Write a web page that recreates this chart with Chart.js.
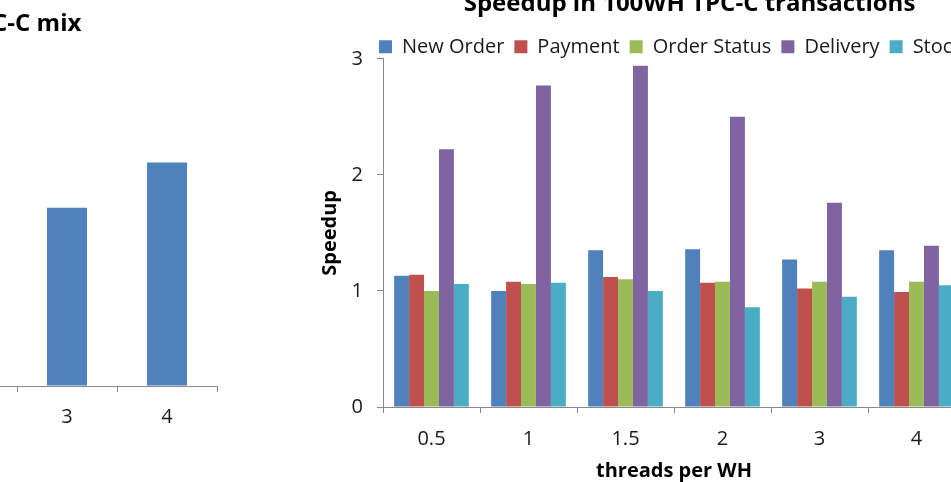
<!DOCTYPE html>
<html lang="en">
<head>
    <meta charset="UTF-8"/>
    <title>Speedup in 100WH TPC-C</title>
    <script src="https://cdn.jsdelivr.net/npm/chart.js"></script>
    <style>
  html, body {
  margin: 0;
  padding: 0;
  width: 951px;
  height: 482px;
  overflow: hidden;
  background: #fff;
}
.box {
  position: absolute;
}
    </style>
</head>
<body>
    <div class="box" style="left:-400px; top:0px;"><canvas id="mixChart" width="640" height="482"></canvas></div>
    <div class="box" style="left:300px; top:-10px;"><canvas id="txChart" width="780" height="498"></canvas></div>
    <script>
        // data
        var threads = ['0.5', '1', '1.5', '2', '3', '4'];
        // left chart: only the bars for 3 and 4 are visible in the picture
        var mixSpeedup = [null, null, null, null, 1.06, 1.33];

        var newOrder    = [1.13, 1.00, 1.35, 1.36, 1.27, 1.35];
        var payment     = [1.14, 1.08, 1.12, 1.07, 1.02, 0.99];
        var orderStatus = [1.00, 1.06, 1.10, 1.08, 1.08, 1.08];
        var delivery    = [2.22, 2.77, 2.94, 2.50, 1.76, 1.39];
        var stockLevel  = [1.06, 1.07, 1.00, 0.86, 0.95, 1.05];

        var axisGrey = '#898989';
        var textColor = '#1a1a1a';
        Chart.defaults.font.family = "'Open Sans', sans-serif";
        Chart.defaults.color = textColor;
        Chart.defaults.animation = false;

        function axisGrid() {
            return { drawOnChartArea: false, drawTicks: true, tickLength: 6, color: axisGrey };
        }

        new Chart(document.getElementById('mixChart'), {
            type: 'bar',
            data: {
                labels: threads,
                datasets: [{
                    label: 'TPC-C mix',
                    data: mixSpeedup,
                    backgroundColor: '#4F81BD',
                    categoryPercentage: 0.4,
                    barPercentage: 1.0
                }]
            },
            options: {
                responsive: false,
                layout: { padding: { left: 0, right: 23, top: 0, bottom: 0 } },
                plugins: {
                    legend: { display: false },
                    tooltip: { enabled: false },
                    title: {
                        display: true,
                        text: 'Speedup in 100WH TPC-C mix',
                        color: '#000',
                        font: { size: 24, weight: 'bold' },
                        padding: { top: 10, bottom: 11 }
                    }
                },
                scales: {
                    x: {
                        grid: axisGrid(),
                        border: { color: axisGrey },
                        ticks: { font: { size: 20 }, padding: 13 },
                        title: { display: true, text: 'threads per WH', font: { size: 20, weight: 'bold' } },
                        afterFit: function (scale) { scale.height = 96; }
                    },
                    y: {
                        min: 0,
                        max: 2,
                        grid: axisGrid(),
                        border: { color: axisGrey },
                        ticks: { stepSize: 0.5, font: { size: 20 }, padding: 14 },
                        afterFit: function (scale) { scale.width = 17; }
                    }
                }
            }
        });

        // pull the legend a little closer to the plot, like the original
        var legendNudge = {
            id: 'legendNudge',
            afterLayout: function (chart) {
                chart.legend.top += 8;
                chart.legend.bottom += 8;
                chart.legend.left += 8;
                chart.legend.right += 8;
            }
        };

        new Chart(document.getElementById('txChart'), {
            type: 'bar',
            data: {
                labels: threads,
                datasets: [
                    { label: 'New Order', data: newOrder, backgroundColor: '#4F81BD' },
                    { label: 'Payment', data: payment, backgroundColor: '#C0504D' },
                    { label: 'Order Status', data: orderStatus, backgroundColor: '#9BBB59' },
                    { label: 'Delivery', data: delivery, backgroundColor: '#8064A2' },
                    { label: 'Stock Level', data: stockLevel, backgroundColor: '#4BACC6' }
                ]
            },
            options: {
                responsive: false,
                datasets: { bar: { categoryPercentage: 0.77, barPercentage: 1.0 } },
                layout: { padding: { left: 14, right: 15, top: 0, bottom: 0 } },
                plugins: {
                    tooltip: { enabled: false },
                    title: {
                        display: true,
                        text: 'Speedup in 100WH TPC-C transactions',
                        color: '#000',
                        font: { size: 24, weight: 'bold' },
                        padding: { top: 0, bottom: 0 }
                    },
                    legend: {
                        position: 'top',
                        labels: {
                            font: { size: 20 },
                            boxWidth: 13,
                            boxHeight: 13,
                            padding: 10,
                            color: textColor
                        }
                    }
                },
                scales: {
                    x: {
                        grid: axisGrid(),
                        border: { color: axisGrey },
                        ticks: { font: { size: 20 }, padding: 14 },
                        title: {
                            display: true,
                            text: 'threads per WH',
                            color: '#000',
                            font: { size: 20, weight: 'bold' },
                            padding: { top: 4, bottom: 5 }
                        },
                        afterFit: function (scale) { scale.height = 81; }
                    },
                    y: {
                        min: 0,
                        max: 3,
                        grid: axisGrid(),
                        border: { color: axisGrey },
                        ticks: { stepSize: 1, font: { size: 20 }, padding: 14 },
                        title: {
                            display: true,
                            text: 'Speedup',
                            color: '#000',
                            font: { size: 20, weight: 'bold' },
                            padding: { top: 4, bottom: 4 }
                        },
                        afterFit: function (scale) { scale.width = 69; }
                    },
                    // empty space right of the plot, as in the original layout
                    yRight: {
                        position: 'right',
                        display: true,
                        grid: { display: false },
                        border: { display: false },
                        ticks: { display: false },
                        afterFit: function (scale) { scale.width = 100; }
                    }
                }
            },
            plugins: [legendNudge]
        });
    </script>
</body>
</html>
